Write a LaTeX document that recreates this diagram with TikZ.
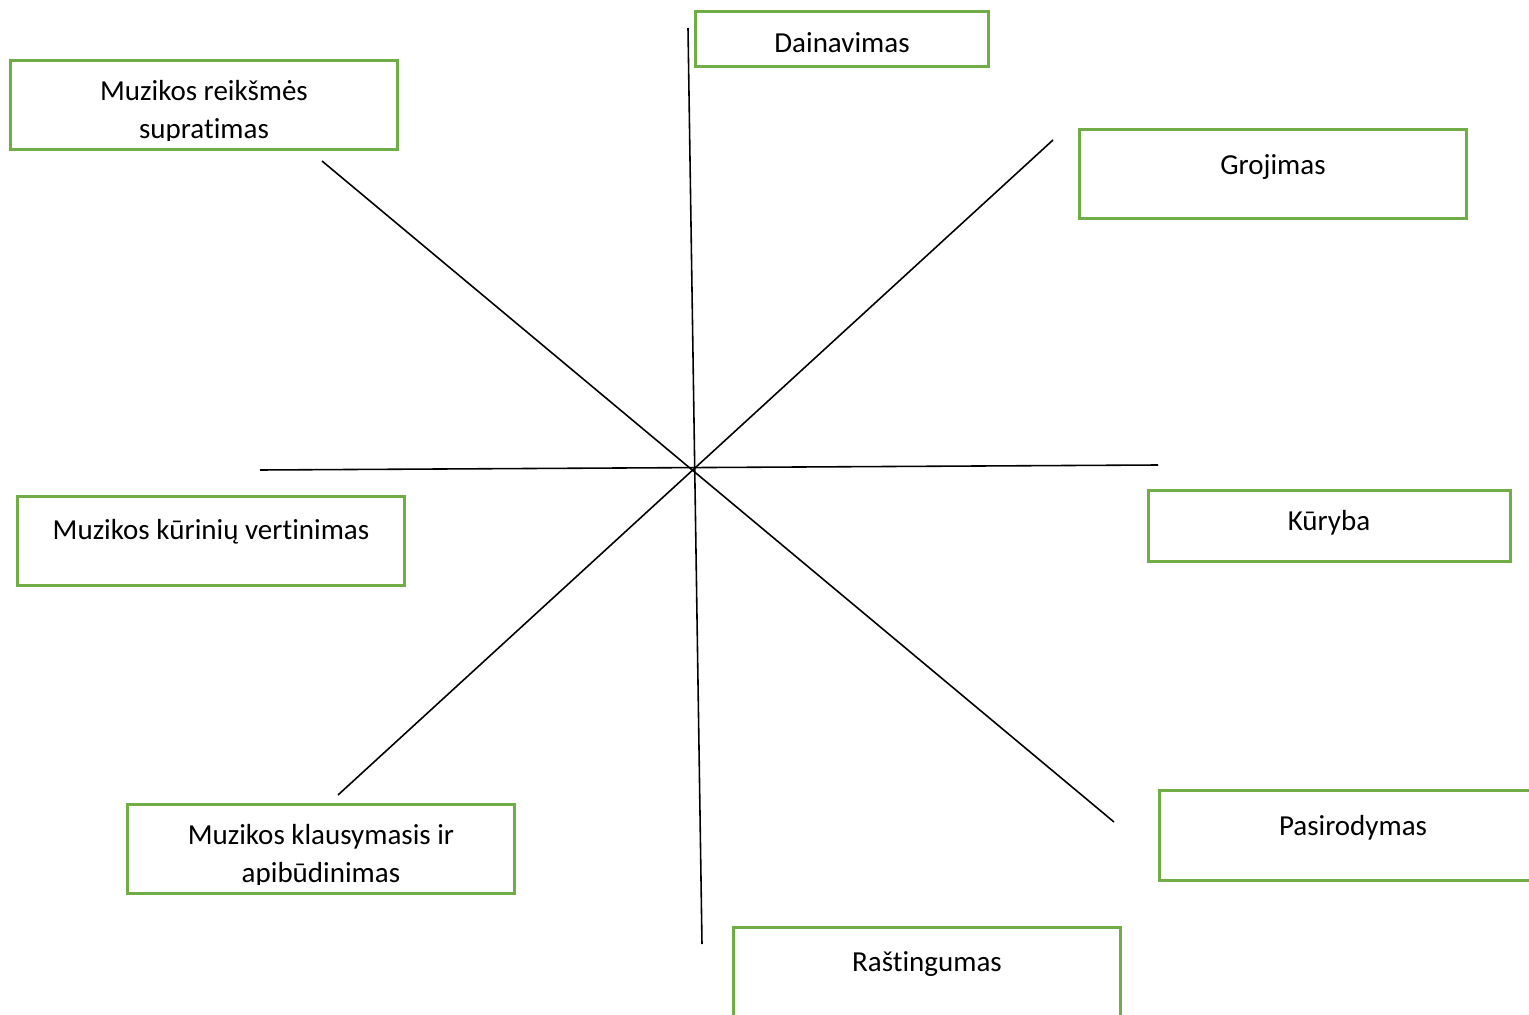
\documentclass[tikz,border=0pt]{standalone}
\usepackage{fontspec}
\setmainfont{Carlito}[Ligatures={NoCommon,NoContextual}]
\definecolor{leafgreen}{HTML}{70AD47}

\begin{document}
\begin{tikzpicture}[x=0.01cm,y=-0.01cm]
        \tikzstyle{topic}=[draw=leafgreen, line width=0.85pt, inner sep=0pt, minimum width=3.86cm, minimum height=0.88cm]
        \tikzstyle{caption}=[anchor=base, inner sep=0pt, align=center, font=\fontsize{8.25}{10.6}\selectfont]
        \tikzstyle{spoke}=[line width=0.45pt]
        \clip (0,0) rectangle (1529,1015);

        % boxes
        \node[topic] (prasme) at (204,105) {};
        \node[topic, minimum width=2.92cm, minimum height=0.54cm] (dainavimas) at (842,39) {};
        \node[topic] (grojimas) at (1273,174) {};
        \node[topic, minimum width=3.61cm, minimum height=0.70cm] (kuryba) at (1329.5,526) {};
        \node[topic] (vertinimas) at (211,541) {};
        \node[topic, minimum height=0.89cm] (pasirodymas) at (1353,835.5) {};
        \node[topic] (klausymas) at (321,849) {};
        \node[topic, minimum height=1.00cm] (rastingumas) at (927,978) {};

        % texts (base = last line)
        \begin{scope}
            \clip (prasme.north west) rectangle ([yshift=0.1cm]prasme.south east);
            \node[caption] (prasmeTxt) at (204,138) {Muzikos reikšmės\\supratimas};
        \end{scope}
        \begin{scope}
            \clip (klausymas.north west) rectangle ([yshift=0.1cm]klausymas.south east);
            \node[caption] (klausymasTxt) at (321,882) {Muzikos klausymasis ir\\apibūdinimas};
        \end{scope}
        \node[caption] (dainavimasTxt) at (842,52) {Dainavimas};
        \node[caption] (grojimasTxt) at (1273,174) {Grojimas};
        \node[caption] (kurybaTxt) at (1329,530) {Kūryba};
        \node[caption] (vertinimasTxt) at (211,539) {Muzikos kūrinių vertinimas};
        \node[caption] (pasirodymasTxt) at (1353,835) {Pasirodymas};
        \node[caption] (rastingumasTxt) at (927,971) {Raštingumas};

        % spokes through the middle
        \coordinate (top) at (688,28);
        \coordinate (bottom) at (702,944);
        \coordinate (left) at (260,470);
        \coordinate (right) at (1158,465);
        \coordinate (nw) at (322,161);
        \coordinate (se) at (1114,822);
        \coordinate (ne) at (1053,140);
        \coordinate (sw) at (338,795);
        \foreach \a/\b in {top/bottom, left/right, nw/se, ne/sw}
            \draw[spoke] (\a) -- (\b);
\end{tikzpicture}
\end{document}
